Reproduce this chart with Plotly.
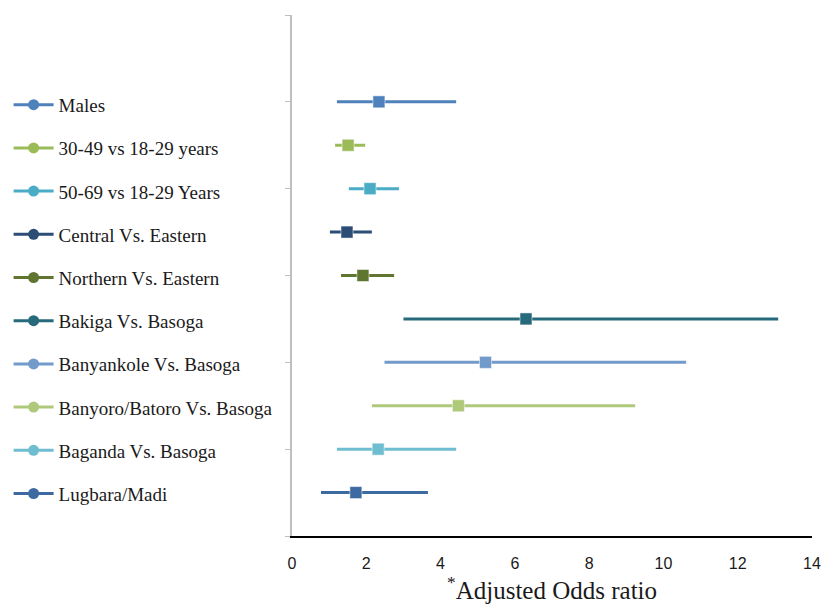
import plotly.graph_objects as go

labels = ["Males", "30-49 vs 18-29 years", "50-69 vs 18-29 Years", "Central Vs. Eastern",
          "Northern Vs. Eastern", "Bakiga Vs. Basoga", "Banyankole Vs. Basoga",
          "Banyoro/Batoro Vs. Basoga", "Baganda Vs. Basoga", "Lugbara/Madi"]
aor = [2.34, 1.51, 2.10, 1.48, 1.91, 6.30, 5.21, 4.48, 2.32, 1.72]
ci_low = [1.21, 1.16, 1.53, 1.02, 1.32, 3.00, 2.49, 2.15, 1.21, 0.78]
ci_high = [4.42, 1.97, 2.88, 2.15, 2.75, 13.09, 10.61, 9.24, 4.42, 3.66]
ypos = [10, 9, 8, 7, 6, 5, 4, 3, 2, 1]
colors = ["#4F81BD", "#9BBB59", "#4BACC6", "#2C4D75", "#5F7530",
          "#276A7C", "#729ACA", "#AFC97A", "#6FBDD1", "#3C6AA1"]

fig = go.Figure()
for i, lab in enumerate(labels):
    c = colors[i]
    fig.add_trace(go.Scatter(x=[ci_low[i], ci_high[i]], y=[ypos[i], ypos[i]], mode="lines",
                             line=dict(color=c, width=3), showlegend=False, hoverinfo="skip"))
    fig.add_trace(go.Scatter(x=[aor[i]], y=[ypos[i]], mode="markers",
                             marker=dict(symbol="square", size=12, color=c,
                                         line=dict(color="rgba(255,255,255,0.5)", width=1)),
                             showlegend=False, name=lab))
    fig.add_trace(go.Scatter(x=[None], y=[None], mode="lines+markers", name=lab,
                             legendgroup="g%d" % i,
                             line=dict(color=c, width=3),
                             marker=dict(symbol="circle", size=11, color=c)))

fig.update_layout(
    width=821, height=607,
    margin=dict(l=292, r=9, t=15, b=71, autoexpand=False),
    plot_bgcolor="white", paper_bgcolor="white",
    showlegend=True,
    legend=dict(x=-0.545, xanchor="left", y=0.864, yanchor="top",
                font=dict(family="Liberation Serif", size=19, color="#1a1a1a"),
                tracegroupgap=15.5, traceorder="grouped", itemwidth=40,
                bgcolor="rgba(0,0,0,0)"),
    xaxis=dict(range=[0, 14], dtick=2, showgrid=False, zeroline=False, automargin=False,
               showline=True, linecolor="black", linewidth=2,
               ticks="outside", ticklen=12, tickcolor="rgba(0,0,0,0)",
               tickfont=dict(family="Liberation Sans", size=16, color="#1a1a1a"),
               title=dict(text="<sup>*</sup>Adjusted Odds ratio", standoff=8,
                          font=dict(family="Liberation Serif", size=25, color="#1a1a1a"))),
    yaxis=dict(range=[0, 12], dtick=2, showgrid=False, zeroline=False, automargin=False,
               showline=True, linecolor="#BFBFBF", linewidth=2,
               ticks="outside", ticklen=5, tickcolor="#BFBFBF", tickwidth=1,
               showticklabels=False),
)

fig.write_html("out.html")
